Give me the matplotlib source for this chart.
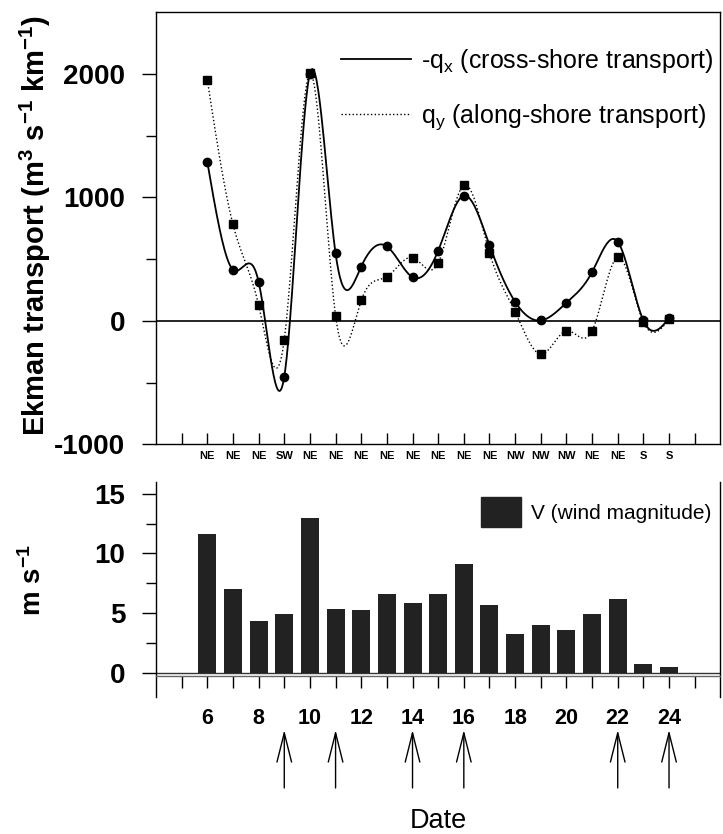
import numpy as np
import matplotlib
matplotlib.use('Agg')
from matplotlib import pyplot as plt
from matplotlib.patches import Patch
from matplotlib.lines import Line2D

plt.rcParams['font.family'] = ['Liberation Sans', 'DejaVu Sans']
plt.rcParams['mathtext.fontset'] = 'custom'
plt.rcParams['mathtext.rm'] = 'Liberation Sans'
plt.rcParams['mathtext.it'] = 'Liberation Sans:italic'
plt.rcParams['mathtext.bf'] = 'Liberation Sans:bold'
plt.rcParams['axes.unicode_minus'] = False

"""
    Data read off the figure
"""
days = [6, 7, 8, 9, 10, 11, 12, 13, 14, 15, 16, 17, 18, 19, 20, 21, 22, 23, 24]
wind_dir = ['NE', 'NE', 'NE', 'SW', 'NE', 'NE', 'NE', 'NE', 'NE', 'NE',
            'NE', 'NE', 'NW', 'NW', 'NW', 'NE', 'NE', 'S', 'S']
qx = [1287, 414, 316, -452, 2003, 546, 440, 603, 354, 568,
      1014, 614, 154, 3, 146, 395, 641, 3, 22]          # -q_x, cross-shore
qy = [1952, 781, 127, -152, 2005, 41, 165, 357, 513, 468,
      1100, 551, 73, -270, -81, -81, 516, -10, 12]      # q_y, along-shore
wind = [11.65, 7.0, 4.3, 4.94, 13.0, 5.36, 5.28, 6.59, 5.81, 6.59,
        9.08, 5.70, 3.29, 3.99, 3.57, 4.89, 6.2, 0.72, 0.5]
arrow_days = [9, 11, 14, 16, 22, 24]
date_labels = [6, 8, 10, 12, 14, 16, 18, 20, 22, 24]


def smooth(x, y, n=600):
    """
    Natural cubic spline through the points, only used to draw the curve.
    """
    x = np.asarray(x, float)
    y = np.asarray(y, float)
    m = len(x)
    h = np.diff(x)
    A = np.zeros((m, m))
    r = np.zeros(m)
    A[0, 0] = A[-1, -1] = 1
    for i in range(1, m - 1):
        A[i, i - 1] = h[i - 1]
        A[i, i] = 2 * (h[i - 1] + h[i])
        A[i, i + 1] = h[i]
        r[i] = 3 * ((y[i + 1] - y[i]) / h[i] - (y[i] - y[i - 1]) / h[i - 1])
    c = np.linalg.solve(A, r)
    b = np.diff(y) / h - h * (2 * c[:-1] + c[1:]) / 3
    d = np.diff(c) / (3 * h)
    xs = np.linspace(x[0], x[-1], n)
    k = np.clip(np.searchsorted(x, xs) - 1, 0, m - 2)
    t = xs - x[k]
    return xs, y[k] + b[k] * t + c[k] * t ** 2 + d[k] * t ** 3


fig = plt.figure(figsize=(7.23, 8.34), dpi=100)
ax1 = fig.add_axes([0.2158, 0.4673, 0.7805, 0.5180])
ax2 = fig.add_axes([0.2158, 0.1646, 0.7805, 0.2578])

all_days = list(range(5, 26))

"""
    Top panel: Ekman transport
"""
xs, ys = smooth(days, qx)
ax1.plot(xs, ys, color='black', lw=1.3)
xs, ys = smooth(days, qy)
ax1.plot(xs, ys, color='black', lw=1.0, ls=':')
ax1.plot(days, qx, 'o', color='black', ms=6)
ax1.plot(days, qy, 's', color='black', ms=5.4)
ax1.axhline(0, color='black', lw=1.2)

ax1.set_xlim(4, 26)
ax1.set_ylim(-1000, 2500)
top_labels = [''] + wind_dir + ['']
ax1.set_xticks(all_days, labels=top_labels, fontsize=8, fontweight='bold')
yt = [-1000, 0, 1000, 2000]
ax1.set_yticks(yt, labels=[str(v) for v in yt], fontsize=20, fontweight='bold')
ax1.set_yticks([-500, 500, 1500], minor=True)
ax1.tick_params(axis='x', direction='in', length=8, width=1, pad=5)
ax1.tick_params(axis='y', which='major', direction='out', length=10, width=1, pad=12)
ax1.tick_params(axis='y', which='minor', direction='out', length=7.5, width=1)
for s in ax1.spines.values():
    s.set_linewidth(1.0)

handles = [Line2D([], [], color='black', lw=1.3),
           Line2D([], [], color='black', lw=1.0, ls=':')]
ax1.legend(handles, ['-q$_\\mathregular{x}$ (cross-shore transport)',
                     'q$_\\mathregular{y}$ (along-shore transport)'],
           loc='upper right', bbox_to_anchor=(0.988, 0.92), frameon=False,
           fontsize=18, handlelength=2.8, handletextpad=0.42,
           labelspacing=1.1, borderpad=0, borderaxespad=0)

"""
    Bottom panel: wind magnitude
"""
ax2.bar(days, wind, width=0.7, color='#222222', zorder=3)
ax2.axhline(0, color='#333333', lw=1.0)
ax2.set_xlim(4, 26)
ax2.set_ylim(-2, 16)
ax2.spines['top'].set_visible(False)
ax2.spines['bottom'].set_position(('data', -0.25))
ax2.spines['bottom'].set_color('#666666')
for s in ax2.spines.values():
    s.set_linewidth(1.0)
bottom_labels = [str(d) if d in date_labels else '' for d in all_days]
ax2.set_xticks(all_days, labels=bottom_labels, fontsize=15.5, fontweight='bold')
bt = [0, 5, 10, 15]
ax2.set_yticks(bt, labels=[str(v) for v in bt], fontsize=20, fontweight='bold')
ax2.set_yticks([2.5, 7.5, 12.5], minor=True)
ax2.tick_params(axis='x', direction='out', length=8.5, width=1, pad=15)
ax2.tick_params(axis='y', which='major', direction='out', length=10, width=1, pad=12)
ax2.tick_params(axis='y', which='minor', direction='out', length=7.5, width=1)

ax2.legend([Patch(facecolor='#222222', edgecolor='#222222')],
           ['V (wind magnitude)'], loc='upper right',
           bbox_to_anchor=(0.985, 0.93), frameon=False, fontsize=15,
           handlelength=1.9, handleheight=1.85, handletextpad=0.5,
           borderpad=0, borderaxespad=0)

# arrows under the dates
for d in arrow_days:
    ax2.annotate('', xy=(d, 0.1247), xytext=(d, 0.0552),
                 xycoords=('data', 'figure fraction'),
                 textcoords=('data', 'figure fraction'),
                 annotation_clip=False,
                 arrowprops=dict(arrowstyle='->,head_length=1.4,head_width=0.35',
                                 mutation_scale=15, lw=1.0, color='black',
                                 shrinkA=0, shrinkB=0))

fig.text(0.0484, 0.729, 'Ekman transport (m$^{\\mathbf{3}}$ s$^{\\mathbf{-1}}$ km$^{\\mathbf{-1}}$)',
         rotation=90, ha='center', va='center', fontsize=21, fontweight='bold')
fig.text(0.046, 0.3046, 'm s$^{\\mathbf{-1}}$', rotation=90, ha='center',
         va='center', fontsize=20, fontweight='bold')
fig.text(0.607, 0.0075, 'Date', ha='center', va='baseline', fontsize=19.5)

fig.savefig('out.png', dpi=100)
